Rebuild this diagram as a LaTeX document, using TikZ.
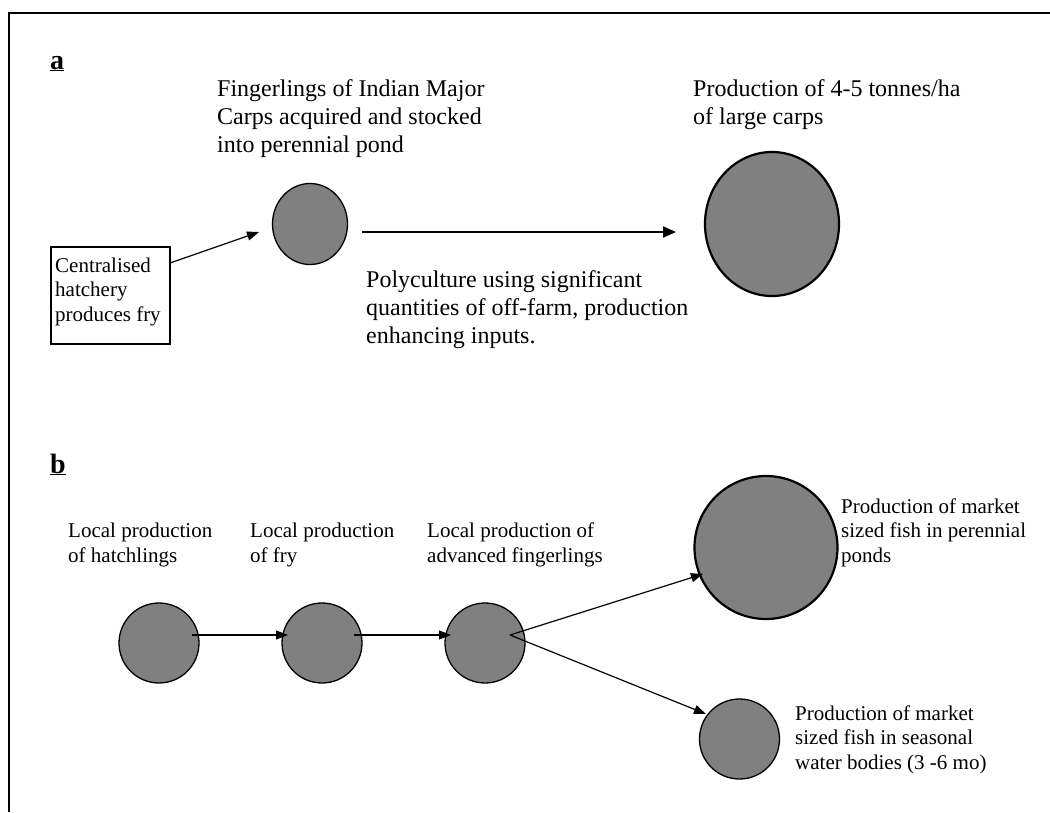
\documentclass[tikz,border=0pt]{standalone}
\usepackage{fontspec}
\setmainfont{Liberation Serif}
\usetikzlibrary{arrows.meta}
\definecolor{pondgray}{RGB}{128,128,128}
\tikzset{
  big/.style={font=\fontsize{24}{27.6}\selectfont, align=left, anchor=base west, inner sep=0pt},
  small/.style={font=\fontsize{21}{24.2}\selectfont, align=left, anchor=base west, inner sep=0pt},
  tag/.style={font=\fontsize{28}{32}\selectfont\bfseries, anchor=base west, inner sep=0pt},
  pond/.style={draw=black, fill=pondgray, line width=1.3pt},
  bigpond/.style={draw=black, fill=pondgray, line width=2.2pt},
  pondnode/.style={circle, draw=black, fill=pondgray, line width=1.3pt, minimum size=80pt, inner sep=0pt},
  arr/.style={-{Triangle[length=12pt,width=9pt]}, line width=1.2pt},
  longarr/.style={-{Triangle[length=13pt,width=11pt]}, line width=2pt},
}
\begin{document}
\begin{tikzpicture}[x=1pt,y=-1pt]
\useasboundingbox (0,0) rectangle (1050,812);
% frame
\draw[line width=2pt] (9,812) -- (9,13) -- (1050,13);
% part a
\node[tag] (la) at (50,69) {\underline{a}};
\node[big] (tfing) at (217,152) {Fingerlings of Indian Major\\Carps acquired and stocked\\into perennial pond};
\node[big] (tprod) at (693,124) {Production of 4-5 tonnes/ha\\of large carps};
\node[draw=black, line width=1.3pt, minimum width=119pt, minimum height=97pt, inner sep=0pt] (hatch) at (110.5,295.5) {};
\node[small] (thatch) at (55,321) {Centralised\\hatchery\\produces fry};
\draw[pond] (310,224) ellipse (37.5 and 40.5);
\coordinate (c1) at (310,224);
\draw[bigpond] (772,224) ellipse (67 and 72);
\coordinate (c2) at (772,224);
\coordinate (a1s) at (170,263);
\coordinate (a1e) at (259,232);
\draw[arr] (a1s) -- (a1e);
\coordinate (a2s) at (362,232);
\coordinate (a2e) at (676,232);
\draw[longarr] (a2s) -- (a2e);
\node[big] (tpoly) at (366,343) {Polyculture using significant\\quantities of off-farm, production\\enhancing inputs.};
% part b
\node[tag] (lb) at (50,473) {\underline{b}};
\node[small] (t1) at (68,562) {Local production\\of hatchlings};
\node[small] (t2) at (250,562) {Local production\\of fry};
\node[small] (t3) at (427,562) {Local production of\\advanced fingerlings};
\node[pondnode] (b1) at (159,643) {};
\node[pondnode] (b2) at (322,643) {};
\node[pondnode] (b3) at (485,643) {};
\node[pondnode, line width=2.2pt, minimum size=143pt] (b4) at (766,547.5) {};
\node[pondnode] (b5) at (739.5,739) {};
\coordinate (s1) at (192,635);
\coordinate (e1) at (288,635);
\coordinate (s2) at (354,635);
\coordinate (e2) at (451,635);
\coordinate (s3) at (510,635);
\coordinate (e4) at (703,574);
\coordinate (e5) at (706,714);
\draw[arr] (s1) -- (e1);
\draw[arr] (s2) -- (e2);
\draw[arr] (s3) -- (e4);
\draw[arr] (s3) -- (e5);
\node[small] (t4) at (841,562) {Production of market\\sized fish in perennial\\ponds};
\node[small] (t5) at (795,769) {Production of market\\sized fish in seasonal\\water bodies (3 -6 mo)};
\end{tikzpicture}
\end{document}
